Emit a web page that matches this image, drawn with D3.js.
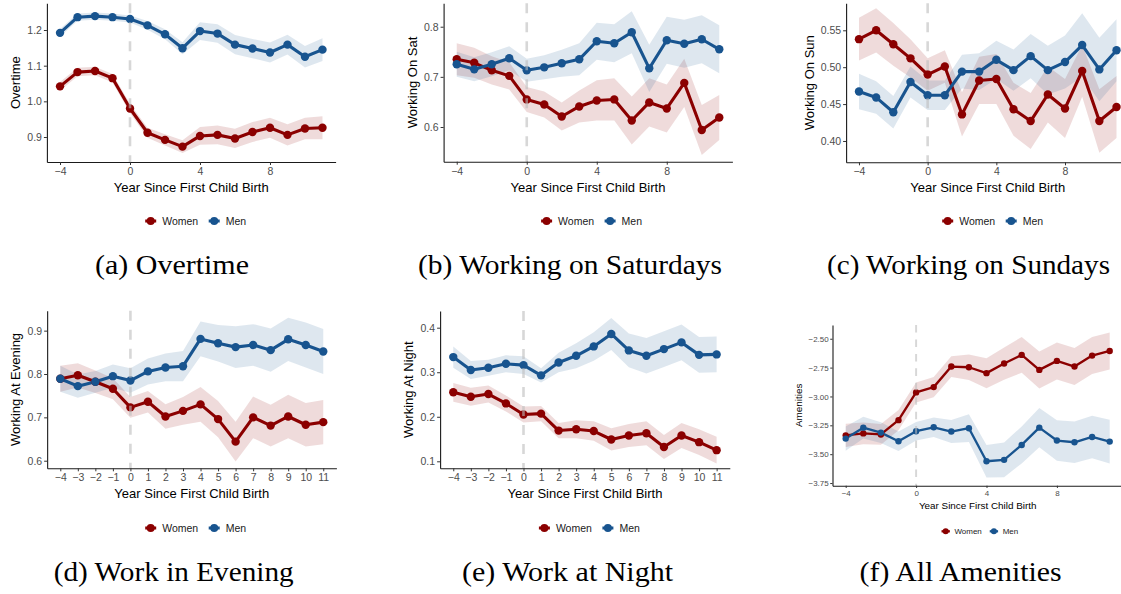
<!DOCTYPE html>
<html>
<head>
<meta charset="utf-8">
<script src="https://cdn.jsdelivr.net/npm/d3@7"></script>
<style>
  body { margin: 0; background: #fff; }
  svg { display: block; }
</style>
</head>
<body>
<svg id="fig" width="1121" height="594"></svg>
<script>
// ---- data -------------------------------------------------------------
const years = [-4, -3, -2, -1, 0, 1, 2, 3, 4, 5, 6, 7, 8, 9, 10, 11];
const seriesNames = ["Women", "Men"];

// (a) Overtime
const overtimeWomen   = [1.042, 1.082, 1.085, 1.065, 0.980, 0.912, 0.892, 0.873, 0.903, 0.906, 0.896, 0.914, 0.926, 0.906, 0.924, 0.926];
const overtimeMen     = [1.192, 1.236, 1.239, 1.236, 1.231, 1.213, 1.188, 1.149, 1.197, 1.190, 1.159, 1.148, 1.137, 1.159, 1.125, 1.145];
const overtimeWomenCI = [0.012, 0.012, 0.012, 0.012, 0.013, 0.014, 0.016, 0.018, 0.025, 0.026, 0.027, 0.028, 0.028, 0.030, 0.030, 0.032];
const overtimeMenCI   = [0.011, 0.010, 0.010, 0.010, 0.010, 0.012, 0.014, 0.017, 0.025, 0.026, 0.027, 0.027, 0.028, 0.028, 0.030, 0.032];

// (b) Working on Saturdays
const saturdayWomen   = [0.735, 0.728, 0.713, 0.702, 0.655, 0.645, 0.621, 0.641, 0.653, 0.655, 0.613, 0.649, 0.637, 0.688, 0.594, 0.619];
const saturdayMen     = [0.725, 0.715, 0.725, 0.737, 0.713, 0.719, 0.727, 0.735, 0.771, 0.767, 0.789, 0.717, 0.773, 0.766, 0.775, 0.755];
const saturdayWomenCI = [0.032, 0.030, 0.028, 0.027, 0.025, 0.026, 0.028, 0.032, 0.040, 0.042, 0.048, 0.048, 0.048, 0.048, 0.050, 0.045];
const saturdayMenCI   = [0.025, 0.024, 0.024, 0.024, 0.023, 0.024, 0.027, 0.032, 0.037, 0.038, 0.042, 0.047, 0.047, 0.048, 0.048, 0.048];

// (c) Working on Sundays
const sundayWomen   = [0.538, 0.550, 0.531, 0.512, 0.490, 0.501, 0.436, 0.482, 0.484, 0.443, 0.427, 0.463, 0.444, 0.495, 0.427, 0.446];
const sundayMen     = [0.467, 0.459, 0.439, 0.480, 0.462, 0.462, 0.494, 0.494, 0.510, 0.496, 0.515, 0.496, 0.507, 0.530, 0.497, 0.523];
const sundayWomenCI = [0.029, 0.030, 0.029, 0.026, 0.022, 0.022, 0.030, 0.032, 0.034, 0.036, 0.038, 0.038, 0.040, 0.035, 0.043, 0.042];
const sundayMenCI   = [0.024, 0.022, 0.022, 0.021, 0.020, 0.020, 0.023, 0.025, 0.026, 0.028, 0.030, 0.033, 0.036, 0.043, 0.043, 0.042];

// (d) Work in Evening
const eveningWomen   = [0.789, 0.797, 0.782, 0.766, 0.723, 0.736, 0.702, 0.715, 0.730, 0.696, 0.644, 0.700, 0.681, 0.702, 0.683, 0.689];
const eveningMen     = [0.789, 0.772, 0.782, 0.795, 0.785, 0.806, 0.815, 0.818, 0.881, 0.871, 0.862, 0.867, 0.855, 0.880, 0.867, 0.852];
const eveningWomenCI = [0.030, 0.028, 0.026, 0.024, 0.024, 0.025, 0.028, 0.032, 0.040, 0.042, 0.046, 0.048, 0.048, 0.050, 0.050, 0.051];
const eveningMenCI   = [0.030, 0.027, 0.025, 0.027, 0.028, 0.030, 0.032, 0.035, 0.040, 0.042, 0.048, 0.048, 0.050, 0.050, 0.052, 0.052];

// (e) Work at Night
const nightWomen   = [0.255, 0.245, 0.251, 0.230, 0.205, 0.207, 0.169, 0.172, 0.168, 0.149, 0.158, 0.163, 0.132, 0.158, 0.143, 0.125];
const nightMen     = [0.334, 0.305, 0.310, 0.319, 0.316, 0.293, 0.322, 0.337, 0.358, 0.386, 0.349, 0.337, 0.352, 0.367, 0.339, 0.340];
const nightWomenCI = [0.021, 0.020, 0.019, 0.018, 0.018, 0.017, 0.017, 0.020, 0.022, 0.025, 0.026, 0.027, 0.027, 0.028, 0.029, 0.030];
const nightMenCI   = [0.024, 0.020, 0.018, 0.019, 0.020, 0.016, 0.022, 0.028, 0.032, 0.036, 0.038, 0.040, 0.040, 0.040, 0.040, 0.040];

// (f) All Amenities
const amenitiesWomen   = [-3.337, -3.320, -3.329, -3.205, -2.965, -2.919, -2.741, -2.747, -2.798, -2.715, -2.640, -2.770, -2.692, -2.741, -2.646, -2.606];
const amenitiesMen     = [-3.365, -3.270, -3.313, -3.388, -3.301, -3.267, -3.304, -3.275, -3.561, -3.549, -3.420, -3.270, -3.382, -3.397, -3.351, -3.391];
const amenitiesWomenCI = [0.100, 0.095, 0.090, 0.088, 0.087, 0.087, 0.090, 0.110, 0.130, 0.140, 0.155, 0.160, 0.160, 0.160, 0.160, 0.160];
const amenitiesMenCI   = [0.105, 0.095, 0.090, 0.085, 0.080, 0.085, 0.100, 0.120, 0.140, 0.150, 0.160, 0.170, 0.175, 0.180, 0.185, 0.190];

// tick labels
const sparseYearTicks = [-4, 0, 4, 8];
const overtimeTicks   = [0.9, 1.0, 1.1, 1.2];
const saturdayTicks   = [0.6, 0.7, 0.8];
const sundayTicks     = [0.40, 0.45, 0.50, 0.55];
const eveningTicks    = [0.6, 0.7, 0.8, 0.9];
const nightTicks      = [0.1, 0.2, 0.3, 0.4];
const amenitiesTicks  = [-3.75, -3.50, -3.25, -3.00, -2.75, -2.50];

const xTitle = "Year Since First Child Birth";
const yTitles  = ["Overtime", "Working On Sat", "Working On Sun", "Working At Evening", "Working At Night", "Amenities"];
const captions = ["(a) Overtime", "(b) Working on Saturdays", "(c) Working on Sundays",
                  "(d) Work in Evening", "(e) Work at Night", "(f) All Amenities"];

// ---- style ------------------------------------------------------------
const colors   = { Women: "#8B0000", Men: "#18548F" };
const SANS  = "'Liberation Sans', Arial, Helvetica, sans-serif";
const SERIF = "'Liberation Serif', 'Times New Roman', serif";

// ---- panel layout -----------------------------------------------------
const panels = [
  { women: overtimeWomen, men: overtimeMen, womenCI: overtimeWomenCI, menCI: overtimeMenCI,
    yTicks: overtimeTicks, yFmt: ".1f", xTicks: sparseYearTicks,
    left: 46.9, right: 335.6, top: 3.3, bottom: 162, yDomain: [0.8299, 1.2749],
    yTitleX: 15, legendX: 150.7, legendY: 221, capX: 172, capY: 274, capW: 154, k: 1 },
  { women: saturdayWomen, men: saturdayMen, womenCI: saturdayWomenCI, menCI: saturdayMenCI,
    yTicks: saturdayTicks, yFmt: ".1f", xTicks: sparseYearTicks,
    left: 443.6, right: 732.4, top: 3.3, bottom: 161.7, yDomain: [0.5308, 0.8467],
    yTitleX: 412, legendX: 546.6, legendY: 221, capX: 570, capY: 274, capW: 304, k: 1 },
  { women: sundayWomen, men: sundayMen, womenCI: sundayWomenCI, menCI: sundayMenCI,
    yTicks: sundayTicks, yFmt: ".2f", xTicks: sparseYearTicks,
    left: 846.1, right: 1129.4, top: 3.3, bottom: 162.3, yDomain: [0.3711, 0.5866],
    yTitleX: 809, legendX: 947.7, legendY: 221, capX: 968.5, capY: 274, capW: 283, k: 1 },
  { women: eveningWomen, men: eveningMen, womenCI: eveningWomenCI, menCI: eveningMenCI,
    yTicks: eveningTicks, yFmt: ".1f", xTicks: years,
    left: 47.15, right: 336.4, top: 310.7, bottom: 468.3, yDomain: [0.5825, 0.946],
    yTitleX: 15, legendX: 150.7, legendY: 528, capX: 173.7, capY: 581, capW: 240, k: 1 },
  { women: nightWomen, men: nightMen, womenCI: nightWomenCI, menCI: nightMenCI,
    yTicks: nightTicks, yFmt: ".1f", xTicks: years,
    left: 440.1, right: 729.8, top: 311, bottom: 468.3, yDomain: [0.0843, 0.4375],
    yTitleX: 408, legendX: 544.4, legendY: 528, capX: 567.5, capY: 581, capW: 211, k: 1 },
  { women: amenitiesWomen, men: amenitiesMen, womenCI: amenitiesWomenCI, menCI: amenitiesMenCI,
    yTicks: amenitiesTicks, yFmt: ".2f", xTicks: sparseYearTicks,
    left: 832.5, right: 1122.9, top: 325, bottom: 485.7, yDomain: [-3.773, -2.381],
    yTitleX: 799, legendX: 945.7, legendY: 531.3, capX: 960.6, capY: 581, capW: 202, k: 0.76 }
];

const svg = d3.select("#fig");
svg.append("rect").attr("width", 1121).attr("height", 594).attr("fill", "#fff");

panels.forEach((p, idx) => {
  const k = p.k;
  const g = svg.append("g");
  const x = d3.scaleLinear().domain([-4.75, 11.75]).range([p.left, p.right]);
  const y = d3.scaleLinear().domain(p.yDomain).range([p.bottom, p.top]);

  const groups = [
    { name: "Women", vals: p.women, ci: p.womenCI },
    { name: "Men",   vals: p.men,   ci: p.menCI }
  ].map(s => ({ name: s.name, rows: years.map((yr, i) => ({ yr, v: s.vals[i], ci: s.ci[i] })) }));

  // confidence ribbons
  const area = d3.area()
    .x(d => x(d.yr))
    .y0(d => y(d.v - d.ci))
    .y1(d => y(d.v + d.ci));
  groups.forEach(s => {
    g.append("path").attr("d", area(s.rows))
      .attr("fill", colors[s.name]).attr("fill-opacity", 0.14);
  });

  // lines
  const line = d3.line().x(d => x(d.yr)).y(d => y(d.v));
  groups.forEach(s => {
    g.append("path").attr("d", line(s.rows))
      .attr("fill", "none").attr("stroke", colors[s.name])
      .attr("stroke-width", 3.1 * k).attr("stroke-linejoin", "round");
  });

  // points
  groups.forEach(s => {
    g.append("g").selectAll("circle").data(s.rows).join("circle")
      .attr("cx", d => x(d.yr)).attr("cy", d => y(d.v))
      .attr("r", 4.2 * k).attr("fill", colors[s.name]);
  });

  // reference line at the year of first birth
  g.append("line")
    .attr("x1", x(0)).attr("x2", x(0))
    .attr("y1", p.top).attr("y2", p.bottom)
    .attr("stroke", "#BDBDBD").attr("stroke-opacity", 0.6)
    .attr("stroke-width", 2.6 * k)
    .attr("stroke-dasharray", `${10 * k},${9 * k}`);

  // axes
  const yAxis = d3.axisLeft(y).tickValues(p.yTicks).tickFormat(d3.format(p.yFmt))
    .tickSize(3 * k).tickSizeOuter(0).tickPadding(2 * k);
  const xAxis = d3.axisBottom(x).tickValues(p.xTicks).tickFormat(d3.format("d"))
    .tickSize(3 * k).tickSizeOuter(0).tickPadding(2.5 * k);

  const ya = g.append("g").attr("transform", `translate(${p.left},0)`).call(yAxis);
  const xa = g.append("g").attr("transform", `translate(0,${p.bottom})`).call(xAxis);
  [ya, xa].forEach(a => {
    a.select(".domain").attr("stroke", "#1a1a1a").attr("stroke-width", 1.1);
    a.selectAll(".tick line").attr("stroke", "#333").attr("stroke-width", 1);
    a.selectAll(".tick text").attr("fill", "#4D4D4D")
      .attr("font-family", SANS).attr("font-size", 10.5 * k);
  });

  // axis titles
  g.append("text")
    .attr("x", (p.left + p.right) / 2)
    .attr("y", p.bottom + 30 * (k === 1 ? 1 : 0.77))
    .attr("text-anchor", "middle")
    .attr("font-family", SANS).attr("font-size", 13 * k).attr("fill", "#000")
    .text(xTitle);
  g.append("text")
    .attr("transform", `translate(${p.yTitleX},${(p.top + p.bottom) / 2}) rotate(-90)`)
    .attr("dy", "0.35em")
    .attr("text-anchor", "middle")
    .attr("font-family", SANS).attr("font-size", 13 * k).attr("fill", "#000")
    .text(yTitles[idx]);

  // legend
  const lg = g.append("g").attr("transform", `translate(${p.legendX},${p.legendY})`);
  let cx = 0;
  seriesNames.forEach((name, i) => {
    const key = lg.append("g").attr("transform", `translate(${cx},0)`);
    key.append("line").attr("x1", -5.5 * k).attr("x2", 5.5 * k)
      .attr("stroke", colors[name]).attr("stroke-width", 3 * k);
    key.append("circle").attr("r", 4 * k).attr("fill", colors[name]);
    const t = lg.append("text")
      .attr("x", cx + 11.5 * k).attr("y", 0).attr("dy", "0.35em")
      .attr("font-family", SANS).attr("font-size", 10.5 * k).attr("fill", "#1a1a1a")
      .text(name);
    cx += 11.5 * k + t.node().getComputedTextLength() + 16 * k;
  });

  // sub-figure caption
  svg.append("text")
    .attr("x", p.capX).attr("y", p.capY)
    .attr("text-anchor", "middle")
    .attr("font-family", SERIF).attr("font-size", 27)
    .attr("textLength", p.capW).attr("lengthAdjust", "spacingAndGlyphs")
    .attr("fill", "#000")
    .text(captions[idx]);
});
</script>
</body>
</html>
